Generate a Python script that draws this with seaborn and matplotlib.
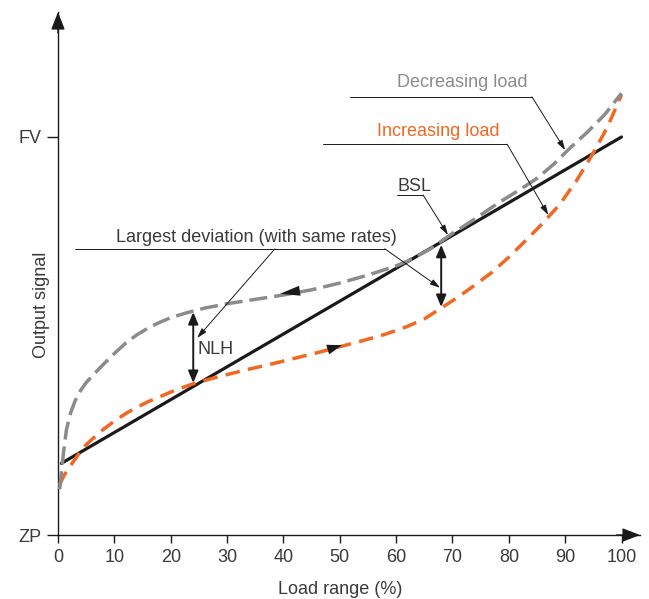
import matplotlib
matplotlib.use("Agg")
import matplotlib.pyplot as plt
import seaborn as sns

# values (x = load %, y = signal with ZP=0, FV=100)
load_bsl = [0.6, 100.0]
sig_bsl = [18.0, 100.0]

load_dec = [0.3, 0.7, 1.0, 1.5, 2.2, 3.0, 4.0, 5.0, 6.5, 8.0, 10.0, 12.0, 14.0,
            16.0, 18.0, 20.0, 23.0, 26.0, 30.0, 35.0, 40.0, 45.0, 50.0, 55.0,
            60.0, 62.0, 66.0, 70.0, 74.0, 78.0, 82.0, 85.0, 88.0, 91.0, 94.0,
            97.0, 100.0]
sig_dec = [11.5, 17.0, 21.0, 26.5, 30.5, 33.6, 36.3, 38.3, 40.6, 42.8, 45.6,
           48.2, 50.3, 52.0, 53.4, 54.6, 55.9, 57.0, 58.1, 59.2, 60.3, 61.6,
           63.3, 65.3, 67.6, 68.8, 71.8, 75.8, 79.4, 83.3, 86.8, 89.6, 93.2,
           97.4, 101.3, 105.6, 111.0]

load_inc = [0.3, 1.0, 2.0, 3.0, 4.5, 6.0, 8.0, 10.0, 12.0, 14.0, 16.0, 18.0,
            21.0, 24.0, 27.0, 30.0, 34.0, 38.0, 42.0, 46.0, 50.0, 54.0, 58.0,
            62.0, 65.0, 68.0, 71.0, 74.0, 77.0, 80.0, 83.0, 86.0, 89.0, 92.0,
            95.0, 97.5, 100.0]
sig_inc = [12.6, 14.8, 17.0, 19.0, 22.0, 24.0, 26.5, 28.6, 30.5, 32.1, 33.5,
           34.7, 36.5, 38.0, 39.2, 40.3, 41.7, 43.0, 44.4, 45.8, 47.3, 48.8,
           50.4, 52.4, 54.3, 57.0, 59.8, 62.8, 66.0, 69.8, 74.0, 78.3, 83.0,
           89.0, 96.0, 102.5, 110.6]

x_ticks = list(range(0, 101, 10))
y_ticks = [0, 100]
y_labels = ["ZP", "FV"]

sns.set_theme(style="white")
plt.rcParams["font.family"] = ["DejaVu Sans Condensed", "Liberation Sans"]
plt.rcParams["font.stretch"] = "condensed"

TXT = "#3a3a3a"
BLK = "#1a1a1a"
GRY = "#8a8b8d"
ORG = "#f26722"
FS = 13

fig = plt.figure(figsize=(6.49, 5.99), dpi=100)
ax = fig.add_axes([58 / 649, 64 / 599, 582 / 649, 523 / 599])

sns.lineplot(x=load_bsl, y=sig_bsl, ax=ax, color=BLK, lw=2.3, zorder=3)
sns.lineplot(x=load_inc, y=sig_inc, ax=ax, color=ORG, lw=2.5,
             linestyle=(0, (4.2, 2.4)), zorder=4)
sns.lineplot(x=load_dec, y=sig_dec, ax=ax, color=GRY, lw=2.5,
             linestyle=(0, (5.2, 2.0)), zorder=5)

ax.set_xlim(0, 103.28)
ax.set_ylim(0, 131.4)
sns.despine(ax=ax)
for s in ["left", "bottom"]:
    ax.spines[s].set_color(BLK)
    ax.spines[s].set_linewidth(1.0)

# axis arrow heads
for tip, tail in [((1, 0), (0.96, 0)), ((0, 1), (0, 0.96))]:
    ax.annotate("", xy=tip, xytext=tail, xycoords="axes fraction",
                arrowprops=dict(arrowstyle="-|>,head_length=0.9,head_width=0.35",
                                mutation_scale=12, color=BLK, lw=1,
                                shrinkA=0, shrinkB=0))

ax.set_xticks(x_ticks)
ax.set_yticks(y_ticks)
ax.set_yticklabels(y_labels)
ax.tick_params(axis="x", direction="out", length=6, width=1, pad=4,
               labelsize=FS, colors=BLK, labelcolor=TXT, bottom=True)
ax.tick_params(axis="y", direction="out", length=8, width=1, pad=4,
               labelsize=FS, colors=BLK, labelcolor=TXT, left=True)

ax.set_xlabel("Load range (%)", fontsize=FS, color=TXT)
ax.xaxis.set_label_coords(0.4845, -0.088)
ax.set_ylabel("Output signal", fontsize=FS, color=TXT)
ax.yaxis.set_label_coords(-0.014, 0.44)


def leader(x0, x1, y, tip):
    ax.plot([x0, x1], [y, y], color=BLK, lw=0.7, zorder=6)
    ax.annotate("", xy=tip, xytext=(x1, y),
                arrowprops=dict(arrowstyle="-|>,head_length=0.5,head_width=0.15",
                                mutation_scale=12, color=BLK, lw=0.7,
                                shrinkA=0, shrinkB=0), zorder=6)


# Largest deviation
ax.text(35.2, 73.6, "Largest deviation (with same rates)", ha="center",
        va="baseline", fontsize=FS, color=TXT)
leader(3.0, 58.0, 71.9, (67.8, 62.1))
ax.annotate("", xy=(24.7, 49.5), xytext=(38.5, 71.9),
            arrowprops=dict(arrowstyle="-|>,head_length=0.5,head_width=0.15",
                            mutation_scale=12, color=BLK, lw=0.7,
                            shrinkA=0, shrinkB=0), zorder=6)

# Decreasing / Increasing / BSL labels
ax.text(83.4, 112.6, "Decreasing load", ha="right", va="baseline",
        fontsize=FS, color=GRY)
leader(51.8, 84.1, 110.1, (90.0, 96.7))
ax.text(78.4, 100.3, "Increasing load", ha="right", va="baseline",
        fontsize=FS, color=ORG)
leader(47.0, 79.7, 98.2, (87.0, 80.4))
ax.text(60.2, 86.4, "BSL", ha="left", va="baseline", fontsize=FS, color=TXT)
leader(60.2, 64.8, 85.4, (69.2, 75.4))

# double arrows
for x, ya, yb in [(24.0, 56.0, 38.2), (68.0, 72.9, 57.3)]:
    ax.annotate("", xy=(x, ya), xytext=(x, yb),
                arrowprops=dict(arrowstyle="<|-|>,head_length=0.6,head_width=0.25",
                                mutation_scale=12, color=BLK, lw=1.4,
                                shrinkA=0, shrinkB=0), zorder=7)
ax.text(24.8, 46.5, "NLH", ha="left", va="center", fontsize=FS, color=TXT)

# direction heads on the curves
ax.annotate("", xy=(39.4, 60.6), xytext=(44.0, 61.6),
            arrowprops=dict(arrowstyle="-|>,head_length=1.2,head_width=0.3",
                            mutation_scale=12, color=BLK, lw=0,
                            shrinkA=0, shrinkB=0), zorder=8)
ax.annotate("", xy=(50.4, 47.7), xytext=(46.5, 46.0),
            arrowprops=dict(arrowstyle="-|>,head_length=0.9,head_width=0.3",
                            mutation_scale=12, color=BLK, lw=0,
                            shrinkA=0, shrinkB=0), zorder=8)

for t in ax.texts:
    t.set_clip_on(False)

fig.savefig("out.png", dpi=100)
